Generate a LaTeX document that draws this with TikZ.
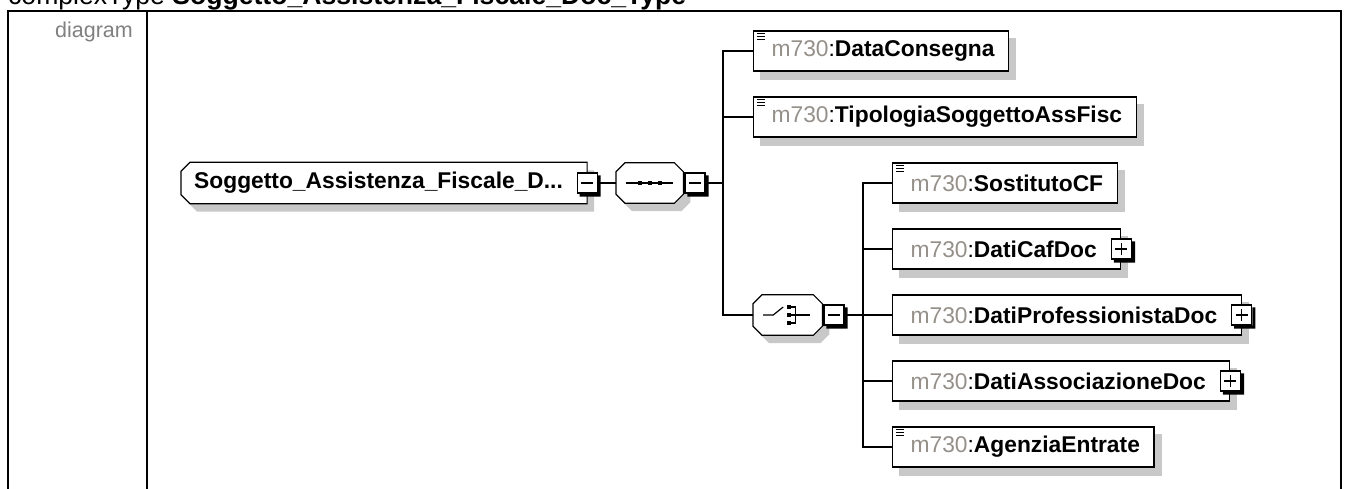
\documentclass[tikz,border=0pt]{standalone}
\usepackage{fontspec}
\setmainfont{Liberation Sans}
\definecolor{shadowgray}{RGB}{200,200,200}
\definecolor{pfxgray}{RGB}{150,144,138}
\definecolor{labelgray}{RGB}{128,128,128}
\newcommand{\lbl}{\fontsize{22.8}{27}\selectfont}
\newcommand{\mel}[1]{{\color{pfxgray}m730}:\textbf{#1}}
% outline of a model group or type box: #1 node, #2 left chamfer, #3 right chamfer
\newcommand{\octpath}[3]{([xshift=#2]#1.north west) -- ([xshift=-#3]#1.north east)
  -- ([yshift=-#3]#1.north east) -- ([yshift=#3]#1.south east) -- ([xshift=-#3]#1.south east)
  -- ([xshift=#2]#1.south west) -- ([yshift=#2]#1.south west) -- ([yshift=-#2]#1.north west) -- cycle}
\pgfdeclarelayer{bg}
\pgfsetlayers{bg,main}

\tikzset{
  elem/.style={draw,line width=1.2pt,fill=white,anchor=west,minimum height=40pt,
    inner xsep=14pt,inner ysep=0pt,font=\lbl},
  group/.style={anchor=west,minimum height=40pt,inner sep=0pt},
  togbox/.style={draw,line width=1.2pt,fill=white,minimum size=20pt,inner sep=0pt},
  conn/.style={line width=1.2pt},
  shade/.style={fill=shadowgray,transform canvas={shift={(7pt,-8pt)}}},
}

\begin{document}
\begin{tikzpicture}[x=1pt,y=-1pt]
\useasboundingbox (0,0) rectangle (1349,489);
% frame of the table
\draw[line width=2.2pt] (8,520) -- (8,11) -- (1341,11) -- (1341,520);
\draw[line width=2.2pt] (147,11) -- (147,520);
\node[anchor=base west,inner sep=0pt,font=\fontsize{26.6}{30}\selectfont] (title) at (8,5)
  {complexType \textbf{Soggetto\_Assistenza\_Fiscale\_Doc\_Type}};
\node[anchor=base east,inner sep=0pt,text=labelgray,font=\fontsize{21.5}{26}\selectfont] (diag) at (133,38) {diagram};

% root type and sequence
\node[group,minimum height=41pt,font=\lbl] (root) at (181,183)
  {\kern13pt\textbf{Soggetto\_Assistenza\_Fiscale\_D...}\kern24pt};
\node[group,minimum width=67pt] (seq) at (616,183) {};
\draw[conn] ([xshift=-23.5pt]seq.center) -- ([xshift=23.5pt]seq.center);
\foreach \dx in {-10,0,10}
  \fill ([xshift=\dx pt]seq.center) +(-2.2,-2.2) rectangle +(2.2,2.2);

% sequence children
\node[elem] (dc) at (753,51) {\kern4pt\mel{DataConsegna}};
\node[elem] (tip) at (753,117) {\kern4pt\mel{TipologiaSoggettoAssFisc}};
\node[group,minimum width=69pt] (ch) at (753,315) {};
\draw[conn] ([shift={(-24.5,0)}]ch.center) -- ([shift={(-14.5,0)}]ch.center) -- ([shift={(-4.5,-8)}]ch.center);
\foreach \dy in {-8,0,8}
  \fill ([shift={(1,\dy)}]ch.center) +(-2,-2.2) rectangle +(2,2.2);
\draw[conn] ([shift={(3,-8)}]ch.center) -- ([shift={(8,-8)}]ch.center) -- ([shift={(8,8)}]ch.center) -- ([shift={(3,8)}]ch.center);
\draw[conn] ([shift={(3,0)}]ch.center) -- ([shift={(22,0)}]ch.center);

% choice children
\node[elem] (sost) at (892,183) {\kern4pt\mel{SostitutoCF}};
\node[elem] (caf) at (892,249) {\kern4pt\mel{DatiCafDoc}\kern10pt};
\node[elem] (prof) at (892,315) {\kern4pt\mel{DatiProfessionistaDoc}\kern10pt};
\node[elem] (assoc) at (892,381) {\kern4pt\mel{DatiAssociazioneDoc}\kern10pt};
\node[elem] (agenz) at (892,447) {\kern4pt\mel{AgenziaEntrate}};

% shadows and outlines behind
\begin{pgfonlayer}{bg}
\foreach \n in {dc,tip,sost,caf,prof,assoc,agenz}
  \fill[shade] (\n.north west) rectangle (\n.south east);
\fill[shade] \octpath{root}{9pt}{0pt};
\fill[shade] \octpath{seq}{9pt}{9pt};
\fill[shade] \octpath{ch}{9pt}{9pt};
\draw[line width=1.2pt,fill=white] \octpath{root}{9pt}{0pt};
\draw[line width=1.2pt,fill=white] \octpath{seq}{9pt}{9pt};
\draw[line width=1.2pt,fill=white] \octpath{ch}{9pt}{9pt};
\end{pgfonlayer}

% expand and collapse boxes
\node[togbox] (rtog) at (root.east) {};
\node[togbox,anchor=west] (stog) at ([xshift=1pt]seq.east) {};
\node[togbox,anchor=west] (ctog) at ([xshift=1pt]ch.east) {};
\node[togbox] (caft) at (caf.east) {};
\node[togbox] (proft) at (prof.east) {};
\node[togbox] (assoct) at (assoc.east) {};
\foreach \n in {rtog,stog,ctog,caft,proft,assoct} {
  \fill (\n.north east) ++(0,3) -- ++(3,0) |- ([shift={(3,3)}]\n.south west) -- ++(0,-3) -| cycle;
  \draw[line width=1.2pt] ([xshift=-6pt]\n.center) -- ([xshift=6pt]\n.center);
}
\foreach \n in {caft,proft,assoct}
  \draw[line width=1.2pt] ([yshift=-6pt]\n.center) -- ([yshift=6pt]\n.center);

% simple type marks
\foreach \n in {dc,tip,sost,agenz}
  \foreach \dy in {3.5,6.5,9.5}
    \draw[line width=1pt] ([shift={(4,\dy)}]\n.north west) -- ++(8,0);

% connectors
\coordinate (sj) at (723,183);
\coordinate (cj) at (863,315);
\draw[conn] (rtog.east) -- (seq.west);
\draw[conn] (stog.east) -- (sj);
\draw[conn] (dc.west) -| (sj) |- (ch.west);
\draw[conn] (sj |- tip.west) -- (tip.west);
\draw[conn] (ctog.east) -- (cj);
\draw[conn] (sost.west) -| (cj) |- (agenz.west);
\foreach \n in {caf,prof,assoc}
  \draw[conn] (cj |- \n.west) -- (\n.west);
\end{tikzpicture}
\end{document}
